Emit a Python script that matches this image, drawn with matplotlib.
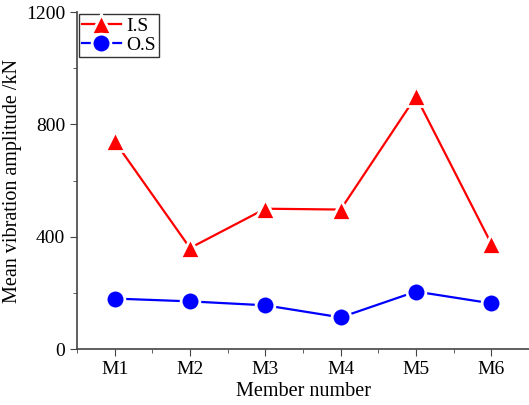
import matplotlib.pyplot as plt
from matplotlib.ticker import MultipleLocator

plt.rcParams['font.family'] = ['Liberation Serif', 'DejaVu Serif']

members = ["M1", "M2", "M3", "M4", "M5", "M6"]
inner = [740, 360, 500, 497, 900, 375]
outer = [180, 170, 156, 113, 205, 163]

x = list(range(1, len(members) + 1))

fig = plt.figure(figsize=(5.29, 4.05), dpi=100)
ax = fig.add_axes([0.1456, 0.138, 0.8544, 0.832])

ax.plot(x, inner, marker='^', markersize=14, linewidth=1.6, color="red",
        markeredgecolor="white", markeredgewidth=2, label="I.S")
ax.plot(x, outer, marker='o', markersize=13.5, linewidth=1.6, color="blue",
        markeredgecolor="white", markeredgewidth=2, label="O.S")

ax.set_xlim(0.5, 6.5)
ax.set_ylim(0, 1200)
ax.set_xticks(x)
ax.set_xticklabels(members)
ax.set_yticks([0, 400, 800, 1200])
ax.yaxis.set_minor_locator(MultipleLocator(200))
ax.xaxis.set_minor_locator(MultipleLocator(0.5))
ax.tick_params(which='both', direction='out', labelsize=14, color='#444444')
ax.tick_params(which='major', length=5)
ax.tick_params(which='minor', length=3)

for s in ['top', 'right']:
    ax.spines[s].set_visible(False)
for s in ['left', 'bottom']:
    ax.spines[s].set_color('#444444')
    ax.spines[s].set_linewidth(1.2)

ax.set_xlabel("Member number", fontsize=14.5, labelpad=3)
ax.set_ylabel("Mean vibration amplitude /kN", fontsize=14.5, labelpad=3)

leg = ax.legend(loc='upper left', fontsize=14, frameon=True, fancybox=False,
                borderpad=0.15, handlelength=2.0, labelspacing=0.1,
                handletextpad=0.3, borderaxespad=0.1)
leg.get_frame().set_edgecolor('black')
leg.get_frame().set_linewidth(1.0)

plt.savefig("out.png", dpi=100)
